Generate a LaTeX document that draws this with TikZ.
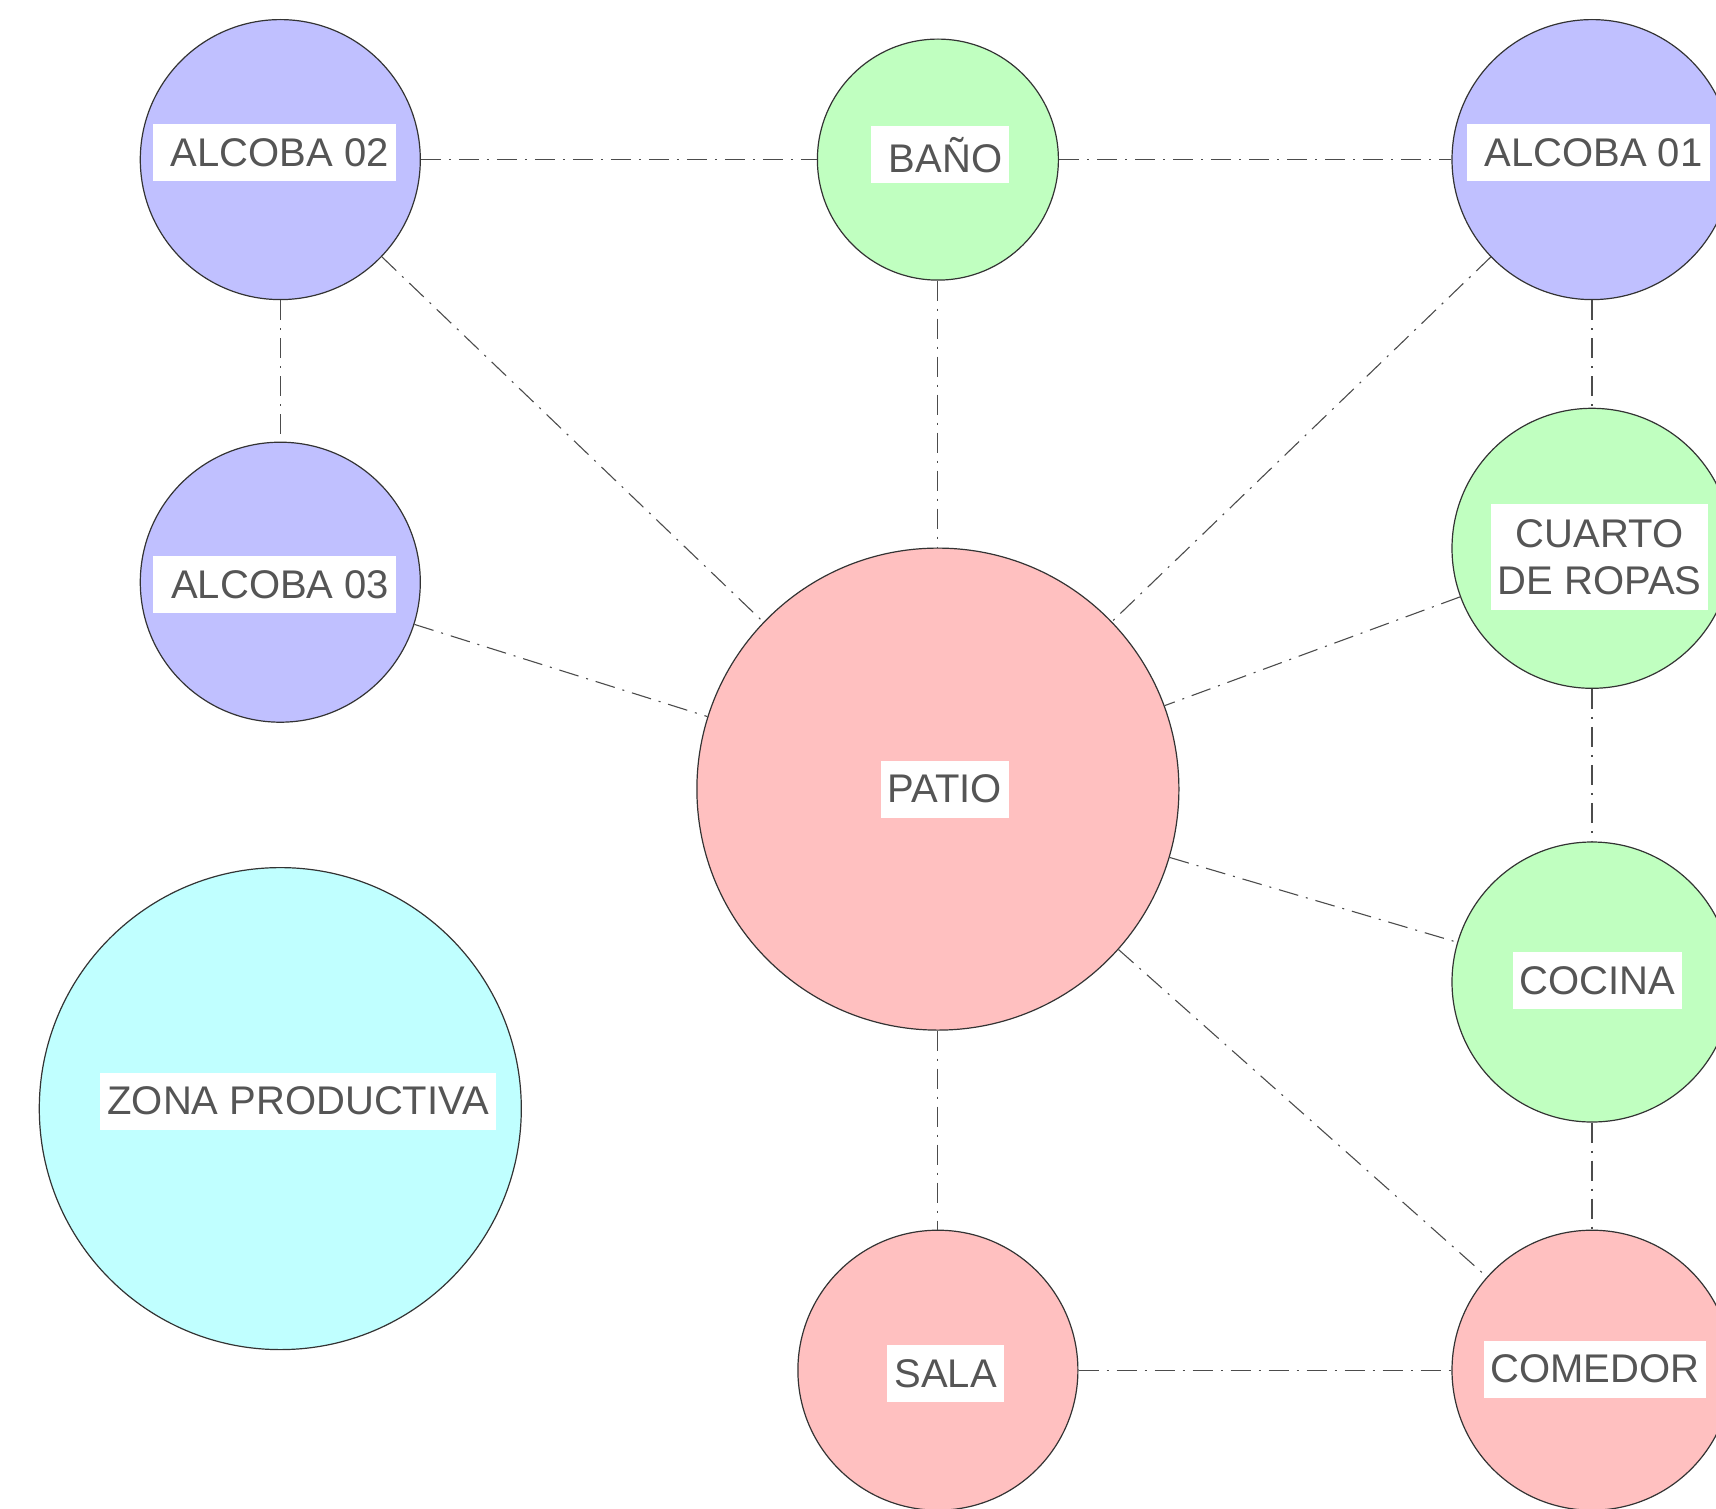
\documentclass[tikz,border=0pt]{standalone}
\usepackage{fontspec}
\setmainfont{Liberation Sans}
\definecolor{roomblue}{HTML}{C0C0FF}
\definecolor{roomgreen}{HTML}{C0FFC0}
\definecolor{roompink}{HTML}{FFC0C0}
\definecolor{roomcyan}{HTML}{C0FFFF}
\definecolor{txtgray}{HTML}{555555}
\begin{document}
\begin{tikzpicture}[x=1pt,y=-1pt,
  room/.style={circle,draw=black!80,line width=1.2pt,inner sep=0pt,minimum size=#1},
  lbl/.style={fill=white,text=txtgray,font=\fontsize{40}{46.5}\selectfont,inner xsep=7pt,inner ysep=0pt,minimum height=57pt,align=center},
  link/.style={draw=black!70,line width=1.1pt,dash pattern=on 20pt off 8pt on 2pt off 8pt}]
\useasboundingbox (0,0) rectangle (1716,1509);
\clip (0,0) rectangle (1716,1509);
% rooms
\node[room=280pt,fill=roomblue]  (a02)  at (280.3,159.6) {};
\node[room=241pt,fill=roomgreen] (bano) at (937.9,159.6) {};
\node[room=280pt,fill=roomblue]  (a01)  at (1592,159.6) {};
\node[room=280pt,fill=roomblue]  (a03)  at (280.3,582.2) {};
\node[room=280pt,fill=roomgreen] (ropa) at (1592,548.3) {};
\node[room=482pt,fill=roompink]  (patio) at (937.9,789.1) {};
\node[room=280pt,fill=roomgreen] (coc)  at (1592,982) {};
\node[room=482pt,fill=roomcyan]  (zona) at (280.3,1108.6) {};
\node[room=280pt,fill=roompink]  (sala) at (937.9,1370.2) {};
\node[room=280pt,fill=roompink]  (com)  at (1592,1370.2) {};
% labels
\node[lbl] (la02) at (274.3,152.7) {\ ALCOBA 02};
\node[lbl] (lbano) at (940,154.9) {\ BAÑO};
\node[lbl] (la01) at (1588,152.7) {\ ALCOBA 01};
\node[lbl] (la03) at (274.7,584.4) {\ ALCOBA 03};
\node[lbl,inner ysep=15.5pt] (lropa) at (1599.5,557) {CUARTO\\DE ROPAS};
\node[lbl] (lpatio) at (945,789) {PATIO};
\node[lbl] (lcoc) at (1597.3,980.6) {COCINA};
\node[lbl] (lzona) at (298.2,1101) {ZONA PRODUCTIVA};
\node[lbl] (lsala) at (945.6,1373.5) {SALA};
\node[lbl] (lcom) at (1595,1369) {COMEDOR};
% connectors
\draw[link] (a02) -- (bano);
\draw[link] (bano) -- (a01);
\draw[link] (a02) -- (a03);
\draw[link] (a02) -- (patio);
\draw[link] (bano) -- (patio);
\draw[link] (a01) -- (patio);
\draw[link] (a01) -- (ropa);
\draw[link] (a03) -- (patio);
\draw[link] (ropa) -- (patio);
\draw[link] (ropa) -- (coc);
\draw[link] (patio) -- (coc);
\draw[link] (patio) -- (com);
\draw[link] (patio) -- (sala);
\draw[link] (coc) -- (com);
\draw[link] (sala) -- (com);
\end{tikzpicture}
\end{document}
